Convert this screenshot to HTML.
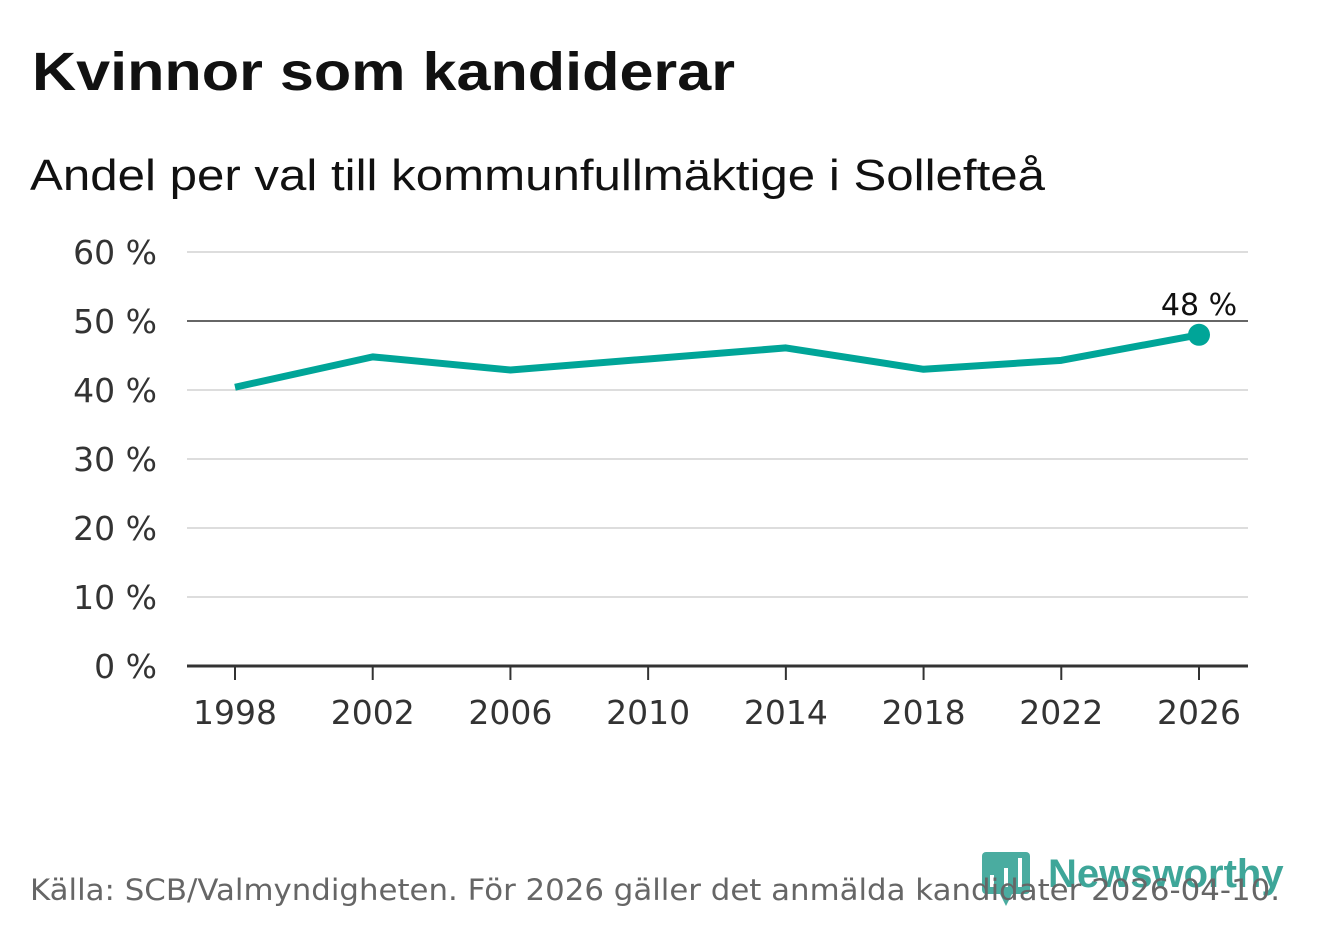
<!DOCTYPE html>
<html><head><meta charset="utf-8"><style>
body{margin:0;background:#fff;width:1322px;height:939px;overflow:hidden;font-family:"DejaVu Sans","Liberation Sans",sans-serif;}
</style></head><body>
<svg width="1322" height="939" xmlns="http://www.w3.org/2000/svg">
<text x="32" y="90" font-size="54" font-weight="bold" fill="#111" font-family="Liberation Sans, sans-serif" textLength="703" lengthAdjust="spacingAndGlyphs">Kvinnor som kandiderar</text>
<text x="30" y="190" font-size="44" fill="#111" font-family="Liberation Sans, sans-serif" textLength="1015" lengthAdjust="spacingAndGlyphs">Andel per val till kommunfullmäktige i Sollefteå</text>
<g id="grid"></g><g id="xaxis"></g><g id="series"></g>
<g>
<rect x="982" y="852" width="48" height="42" rx="4" fill="#2a9d8f" opacity="0.85"/>
<polygon points="1000,894 1012,894 1006,906" fill="#2a9d8f" opacity="0.85"/>
<rect x="990" y="875" width="4" height="12" fill="#fff"/><rect x="1004" y="868" width="4" height="19" fill="#fff"/><rect x="1018" y="858" width="4" height="29" fill="#fff"/>
<text x="1048" y="887" font-size="40" font-weight="bold" fill="#2a9d8f" opacity="0.9" font-family="Liberation Sans, sans-serif">Newsworthy</text>
</g>
<text x="30" y="900" font-size="29" fill="#666" textLength="1250" lengthAdjust="spacingAndGlyphs">Källa: SCB/Valmyndigheten. För 2026 gäller det anmälda kandidater 2026-04-10.</text>
</svg>
<script>
const years=[1998,2002,2006,2010,2014,2018,2022,2026];
const shares=[40.4,44.8,42.9,44.5,46.1,43.0,44.3,48.0];
const yTicks=[0,10,20,30,40,50,60];
const xScale=y=>235+(y-1998)*(1199-235)/28;
const yScale=v=>666-v*(666-252)/60;
const NS="http://www.w3.org/2000/svg";
function mk(t,a,p){const e=document.createElementNS(NS,t);for(const k in a)e.setAttribute(k,a[k]);p.appendChild(e);return e;}
const grid=document.getElementById('grid');
yTicks.forEach(v=>{
 const y=yScale(v);
 const l=mk('line',{x1:187,x2:1248,y1:y,y2:y,stroke:v===0?'#333':(v===50?'#666':'#ddd'),'stroke-width':v===0?3:2},grid);
 
 
 const t=mk('text',{x:157,y:y+12,'font-size':33,'text-anchor':'end',fill:'#333'},grid);
 t.textContent=v+' %';
 
 
});
const xa=document.getElementById('xaxis');
years.forEach(yr=>{
 const x=xScale(yr);
 const l=mk('line',{x1:x,x2:x,y1:666,y2:680,stroke:'#333','stroke-width':2},xa);
 
 
 const t=mk('text',{x:x,y:724,'font-size':33,'text-anchor':'middle',fill:'#333'},xa);
 t.textContent=yr;
 
 
});
const s=document.getElementById('series');
const p=mk('polyline',{points:years.map((yr,i)=>xScale(yr)+','+yScale(shares[i])).join(' '),fill:'none',stroke:'#00a598','stroke-width':7,'stroke-linejoin':'round'},s);


const li=years.length-1;
const c=mk('circle',{cx:xScale(years[li]),cy:yScale(shares[li]),r:11,fill:'#00a598'},s);


const lb=mk('text',{x:xScale(years[li]),y:yScale(shares[li])-20,'font-size':30,'text-anchor':'middle',fill:'#111',stroke:'#fff','stroke-width':5,'paint-order':'stroke'},s);
lb.textContent=Math.round(shares[li])+' %';


</script>
</body></html>
